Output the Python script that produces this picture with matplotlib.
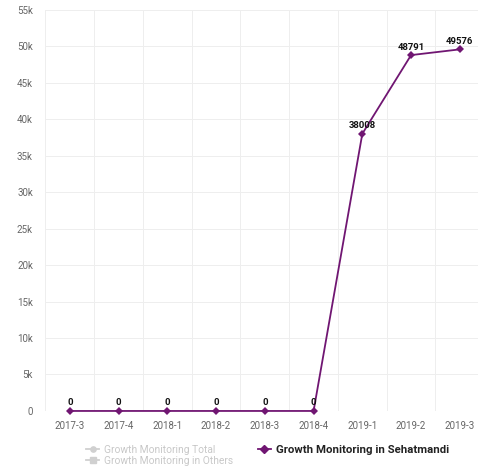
import matplotlib.pyplot as plt
from matplotlib.lines import Line2D

plt.rcParams['font.family'] = ['Roboto', 'DejaVu Sans']

quarters = ['2017-3', '2017-4', '2018-1', '2018-2', '2018-3', '2018-4',
            '2019-1', '2019-2', '2019-3']
sehatmandi = [0, 0, 0, 0, 0, 0, 38008, 48791, 49576]
y_ticks = [0, 5000, 10000, 15000, 20000, 25000, 30000, 35000, 40000, 45000, 50000, 55000]
y_labels = ['0', '5k', '10k', '15k', '20k', '25k', '30k', '35k', '40k', '45k', '50k', '55k']

purple = '#701672'
grey_txt = '#666666'

fig = plt.figure(figsize=(4.78, 4.67), dpi=100)
# plot area runs slightly past the right edge of the canvas
ax = fig.add_axes([0.095, 0.12, 0.918, 0.859])

x = list(range(len(quarters)))
ax.plot(x, sehatmandi, color=purple, lw=1.3, marker='D', markersize=3.6,
        markeredgewidth=0, zorder=3, clip_on=False)

for xi, v in zip(x, sehatmandi):
    ax.annotate(str(v), (xi, v), xytext=(0, 2.5), textcoords='offset points',
                ha='center', va='bottom', fontsize=6.8, fontweight='bold',
                color='#111111', zorder=4)

ax.set_xlim(-0.5, len(quarters) - 0.5)
ax.set_ylim(0, 55000)
ax.set_xticks(x)
ax.set_xticklabels(quarters)
ax.set_yticks(y_ticks)
ax.set_yticklabels(y_labels)

# vertical grid at category boundaries, horizontal at ticks
for b in [i - 0.5 for i in range(len(quarters) + 1)]:
    ax.axvline(b, color='#eeeeee', lw=0.7, zorder=0)
ax.grid(axis='y', color='#eeeeee', lw=0.7, zorder=0)
ax.set_axisbelow(True)

for s in ax.spines.values():
    s.set_visible(False)
ax.tick_params(axis='both', length=0, labelsize=7, labelcolor=grey_txt)
ax.tick_params(axis='x', pad=7)
ax.tick_params(axis='y', pad=9)

handles = [
    Line2D([], [], color='#d0d0d0', marker='o', markersize=3.8, lw=1.3),
    Line2D([], [], color='#d0d0d0', marker='s', markersize=3.8, lw=1.3),
    Line2D([], [], color=purple, marker='D', markersize=3.6, lw=1.3),
]
names = ['Growth Monitoring Total', 'Growth Monitoring in Others',
         'Growth Monitoring in Sehatmandi']
leg = fig.legend(handles, names, ncol=2, loc='upper left', bbox_to_anchor=(0.18, 0.047),
                 frameon=False, fontsize=7.4, handlelength=1.3, handletextpad=0.45,
                 columnspacing=2.4, labelspacing=0.1, borderpad=0, borderaxespad=0)
for t, c in zip(leg.get_texts(), ['#c8c8c8', '#c8c8c8', '#222222']):
    t.set_color(c)
leg.get_texts()[2].set_fontweight('bold')
leg.get_texts()[2].set_fontsize(8.2)

fig.savefig('out.png', dpi=100)
